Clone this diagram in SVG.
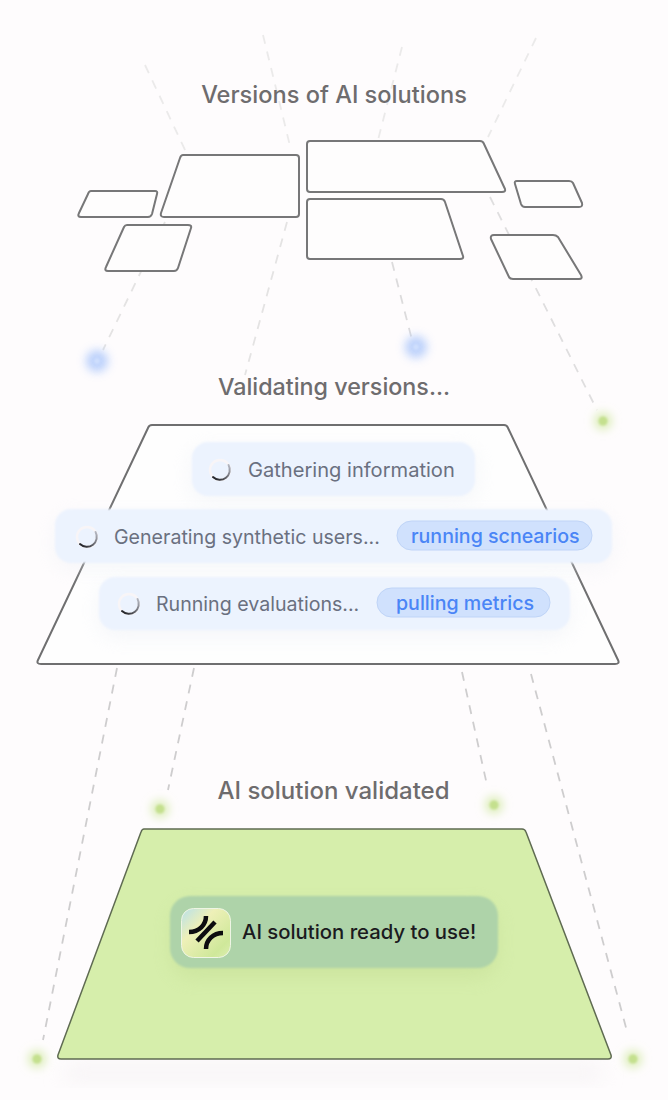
<svg xmlns="http://www.w3.org/2000/svg" width="668" height="1100" viewBox="0 0 668 1100">
<style>
.ver{fill:#fefdfd;stroke:#777778;stroke-width:2;stroke-linejoin:round}
.dash{fill:none;stroke-width:1.8;stroke-dasharray:9 8}
.t{font-family:"Inter","Liberation Sans",sans-serif;font-weight:500}
.title{fill:#6e6c6e;text-anchor:middle}
.chiptext{font-size:19.6px;fill:#6a7080;font-weight:400}
.tag{font-size:19.6px;fill:#4a85f6;font-weight:500}
.chip{fill:#ecf3fe}
.tagbg{fill:#d0e1fd;stroke:#bfd4f7;stroke-width:1}
.halo-b{fill:#a9c5fb;opacity:.8}
.core-b{fill:#cfdffd}
.halo-g{fill:#dcedb8}
.core-g{fill:#c4e08e}
</style>
<defs>
<filter id="b2" x="-100%" y="-100%" width="300%" height="300%"><feGaussianBlur stdDeviation="5"/></filter>
<filter id="b1" x="-100%" y="-100%" width="300%" height="300%"><feGaussianBlur stdDeviation="1"/></filter>
<filter id="e" x="-5%" y="-10%" width="110%" height="120%"><feGaussianBlur stdDeviation=".8"/></filter>
<filter id="s" x="-20%" y="-50%" width="140%" height="200%"><feGaussianBlur stdDeviation="10"/></filter>
<linearGradient id="icon" x1="0" y1="0" x2="1" y2="1"><stop offset="0" stop-color="#b8e0ea"/><stop offset=".35" stop-color="#eef0b8"/><stop offset=".8" stop-color="#cfe89a"/><stop offset="1" stop-color="#dcedb0"/></linearGradient>
<linearGradient id="arc" x1="1" y1="0" x2="0" y2="1"><stop offset="0" stop-color="#b9bcc6"/><stop offset="1" stop-color="#17181d"/></linearGradient>
<g id="spin"><circle r="10" fill="none" stroke="#f8f5f7" stroke-width="2.4"/><path d="M8.6-5A10 10 0 0 1-7 7.1" fill="none" stroke="url(#arc)" stroke-width="2" stroke-linecap="round"/></g>
</defs>
<rect width="668" height="1100" fill="#fefcfd"/>
<g id="connectors">
<path class="dash" stroke="#ebeaea" d="M145 65L186 152"/>
<path class="dash" stroke="#ebeaea" d="M263 35L291 150"/>
<path class="dash" stroke="#ebeaea" d="M402 47L378 140"/>
<path class="dash" stroke="#ebeaea" d="M536 38L488 137"/>
<path class="dash" stroke="#e4e3e3" d="M165 222L103 350"/>
<path class="dash" stroke="#e4e3e3" d="M287 222L245 375"/>
<path class="dash" stroke="#dcdbdc" d="M392 262L412 340"/>
<path class="dash" stroke="#dfdedf" d="M490 197L597 410"/>
<path class="dash" stroke="#cecdce" d="M117 668L43 1040"/>
<path class="dash" stroke="#cecdce" d="M194 668L168 790"/>
<path class="dash" stroke="#cecdce" d="M462 672L487 785"/>
<path class="dash" stroke="#cecdce" d="M531 674L628 1035"/>
</g>
<g id="dots">
<g id="dot-blue-1"><circle cx="97" cy="361" r="11" class="halo-b" filter="url(#b2)"/><circle cx="97" cy="361" r="3" class="core-b" filter="url(#b1)"/></g>
<g id="dot-blue-2"><circle cx="416" cy="347" r="11" class="halo-b" filter="url(#b2)"/><circle cx="416" cy="347" r="3" class="core-b" filter="url(#b1)"/></g>
<g id="dot-green-1"><circle cx="603" cy="421" r="9" class="halo-g" filter="url(#b2)"/><circle cx="603" cy="421" r="4.500" class="core-g" filter="url(#b1)"/></g>
<g id="dot-green-2"><circle cx="160" cy="809" r="9" class="halo-g" filter="url(#b2)"/><circle cx="160" cy="809" r="4.500" class="core-g" filter="url(#b1)"/></g>
<g id="dot-green-3"><circle cx="494" cy="805" r="9" class="halo-g" filter="url(#b2)"/><circle cx="494" cy="805" r="4.500" class="core-g" filter="url(#b1)"/></g>
<g id="dot-green-4"><circle cx="37" cy="1059" r="9" class="halo-g" filter="url(#b2)"/><circle cx="37" cy="1059" r="4.500" class="core-g" filter="url(#b1)"/></g>
<g id="dot-green-5"><circle cx="633" cy="1059" r="9" class="halo-g" filter="url(#b2)"/><circle cx="633" cy="1059" r="4.500" class="core-g" filter="url(#b1)"/></g>
</g>
<text class="t title" x="334" y="103" font-size="23.6">Versions of AI solutions</text>
<g id="version-a"><path class="ver" d="M91 191H155Q158 191 157 194L152 214Q151 217 148 217H81Q77 217 79 213L88 194Q89 191 91 191Z"/></g>
<g id="version-b"><path class="ver" d="M183 155H296Q299 155 299 158V214Q299 217 296 217H164Q160 217 161 213L180 158Q181 155 183 155Z"/></g>
<g id="version-c"><path class="ver" d="M127 225H188Q192 225 191 228L178 268Q177 271 174 271H108Q104 271 106 267L124 227Q125 225 127 225Z"/></g>
<g id="version-d"><path class="ver" d="M310 141H480Q483 141 484 144L505 189Q506 192 502 192H310Q307 192 307 189V144Q307 141 310 141Z"/></g>
<g id="version-e"><path class="ver" d="M310 199H441Q444 199 445 202L463 256Q464 259 460 259H310Q307 259 307 256V202Q307 199 310 199Z"/></g>
<g id="version-f"><path class="ver" d="M517 181H569Q572 181 573 183L582 203Q583 207 579 207H525Q522 207 521 204L515 184Q514 181 517 181Z"/></g>
<g id="version-g"><path class="ver" d="M494 235H553Q556 235 558 237L581 275Q583 279 579 279H513Q510 279 509 277L491 239Q490 235 494 235Z"/></g>
<text class="t title" x="334" y="394.500" font-size="23.3">Validating versions...</text>
<g id="validating"><path d="M152 425H504Q507 425 508 428L618 660Q620 664 615 664H41Q36 664 38 660L148 428Q149 425 152 425Z" fill="#fefefe" stroke="#6f6f70" stroke-width="2" stroke-linejoin="round"/></g>
<g id="step-gathering"><rect x="190" y="448" width="287" height="54" rx="16" fill="#e6eaf2" opacity=".35" filter="url(#s)"/><rect x="192" y="442" width="283" height="54" rx="16" class="chip" filter="url(#e)"/><use href="#spin" x="220" y="470"/><text class="t chiptext" x="248" y="477" style="font-size:20.1px">Gathering information</text></g>
<g id="step-synthetic"><rect x="55" y="515" width="557" height="54" rx="16" fill="#e6eaf2" opacity=".35" filter="url(#s)"/><rect x="55" y="509" width="557" height="54" rx="16" class="chip" filter="url(#e)"/><use href="#spin" x="87" y="537"/><text class="t chiptext" x="114" y="544">Generating synthetic users...</text><rect x="397" y="521" width="195" height="29" rx="14.500" class="tagbg"/><text class="t tag" x="411" y="543">running scnearios</text></g>
<g id="step-evaluations"><rect x="99" y="584" width="471" height="53" rx="16" fill="#e6eaf2" opacity=".4" filter="url(#s)"/><rect x="99" y="577" width="471" height="53" rx="16" class="chip" filter="url(#e)"/><use href="#spin" x="129" y="604"/><text class="t chiptext" x="156" y="611">Running evaluations...</text><rect x="377" y="588" width="173" height="29" rx="14.500" class="tagbg"/><text class="t tag" x="396" y="610">pulling metrics</text></g>
<text class="t title" x="333.500" y="799" font-size="24">AI solution validated</text>
<g id="validated"><path d="M70 1065H600L605 1080H60Z" fill="#eeeaec" opacity=".5" filter="url(#s)"/>
<path d="M144 829H522Q525 829 526 832L611 1055Q612 1059 608 1059H61Q57 1059 58 1055L141 832Q142 829 144 829Z" fill="#d6eeab" stroke="#5f6b52" stroke-width="1.500" stroke-linejoin="round"/>
<rect x="172" y="905" width="324" height="72" rx="20" fill="#c0d98f" opacity=".45" filter="url(#s)"/>
<rect x="170" y="896" width="328" height="72" rx="20" fill="#aed3a9" filter="url(#e)"/>
<rect x="181.500" y="908.500" width="49" height="49" rx="12" fill="url(#icon)" stroke="#eef5e4" stroke-width="1"/>
<g fill="none" stroke="#0d0d10" stroke-width="4.500"><path d="M206 916C206 925 199 932 189 932"/><path d="M215 922L197 941"/><path d="M223 933C213 933 206 940 206 949"/></g>
<text class="t" x="242" y="939" font-size="20.3" fill="#1b1a20">AI solution ready to use!</text></g>
</svg>
